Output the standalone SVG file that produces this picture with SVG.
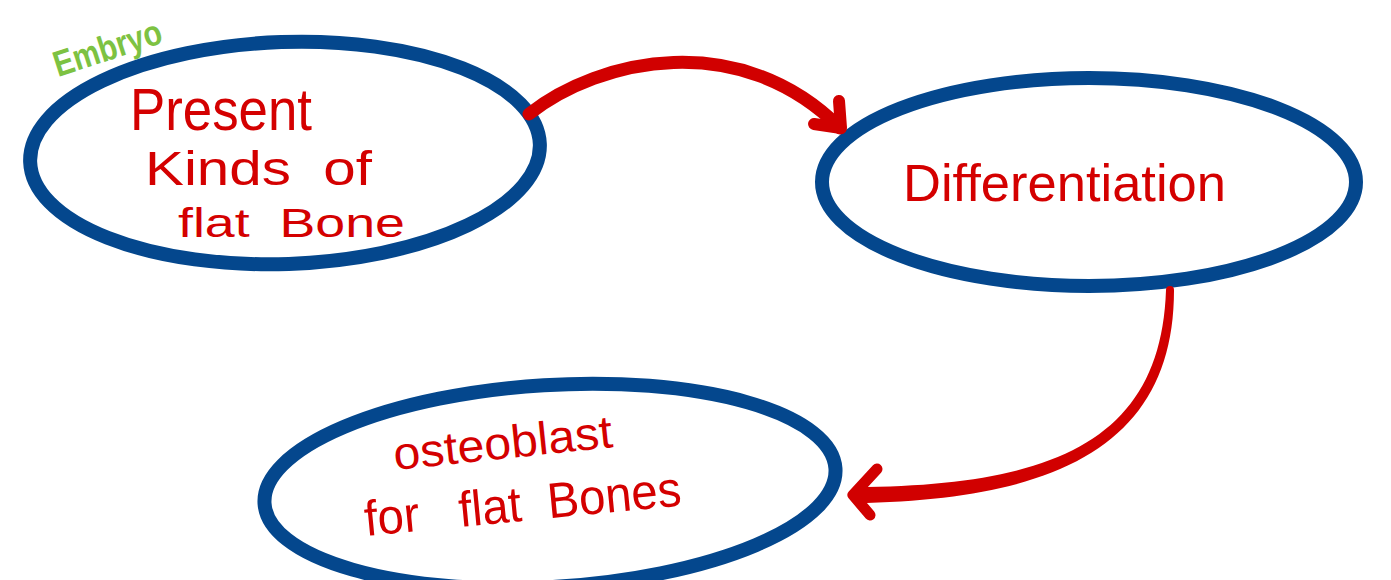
<svg xmlns="http://www.w3.org/2000/svg" width="1391" height="580" viewBox="0 0 1391 580">
<style>
.node{fill:none;stroke:#04478d;stroke-width:14}
.hw{font-family:"Liberation Sans","DejaVu Sans",sans-serif;fill:#d40000}
.conn{fill:none;stroke:#d10000;stroke-linecap:round;stroke-linejoin:round}
</style>
<rect width="1391" height="580" fill="#ffffff"/>
<g id="node-embryo">
<ellipse class="node" cx="285" cy="153" rx="255" ry="111" transform="rotate(-2 285 153)"/>
<text x="58" y="77" font-family="Liberation Sans, DejaVu Sans, sans-serif" font-size="36" font-weight="bold" fill="#7dc242" textLength="112" lengthAdjust="spacingAndGlyphs" transform="rotate(-18 58 77)">Embryo</text>
<text class="hw" x="130" y="130" font-size="60" textLength="182" lengthAdjust="spacingAndGlyphs">Present</text>
<text class="hw" x="145" y="185" font-size="48" textLength="227" lengthAdjust="spacingAndGlyphs" xml:space="preserve">Kinds  of</text>
<text class="hw" x="178" y="237" font-size="40" textLength="227" lengthAdjust="spacingAndGlyphs" xml:space="preserve">flat  Bone</text>
</g>
<g id="node-differentiation">
<ellipse class="node" cx="1089" cy="182" rx="267" ry="104"/>
<text x="903" y="201" font-family="Liberation Sans, Arial, sans-serif" font-size="52" fill="#d40000" textLength="323" lengthAdjust="spacingAndGlyphs">Differentiation</text>
</g>
<g id="node-osteoblast">
<ellipse class="node" cx="550" cy="486" rx="286" ry="101" transform="rotate(-3.5 550 486)"/>
<text class="hw" x="395" y="470" font-size="46" textLength="220" lengthAdjust="spacingAndGlyphs" transform="rotate(-6 395 470)">osteoblast</text>
<text class="hw" x="366" y="536" font-size="50" textLength="318" lengthAdjust="spacingAndGlyphs" transform="rotate(-5.5 366 536)" xml:space="preserve">for   flat  Bones</text>
</g>
<g id="connectors">
<path class="conn" stroke-width="13" d="M529,114 C600,58 740,28 840,128"/>
<path class="conn" stroke-width="12" d="M839,101 L841,128 L814,124"/>
<path d="M1166,290 C1161,438 1058,486 855,487 L855,503 C1062,500 1174,442 1174,290 Z" fill="#d10000"/>
<circle cx="1170" cy="290" r="4" fill="#d10000"/>
<path class="conn" stroke-width="11" d="M877,469 L853,495 L870,515"/>
</g>
</svg>
